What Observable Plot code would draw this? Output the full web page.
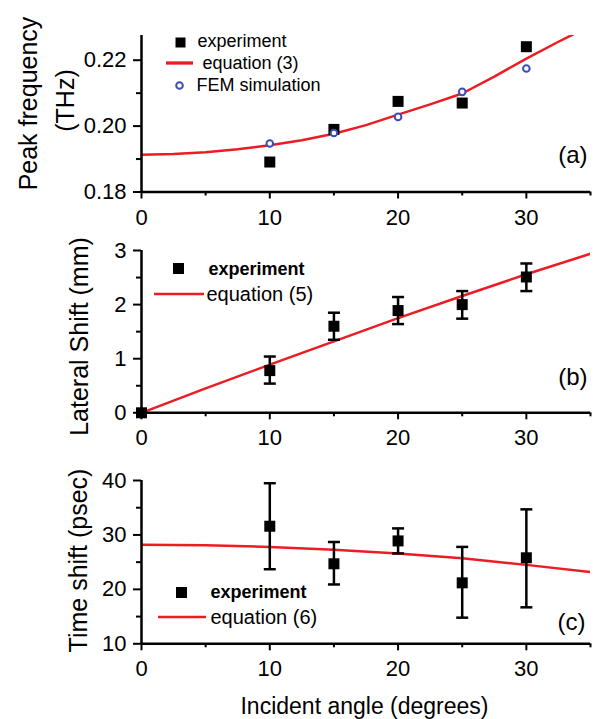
<!DOCTYPE html>
<html>
<head>
<meta charset="utf-8">
<script src="https://cdn.jsdelivr.net/npm/d3@7"></script>
<script src="https://cdn.jsdelivr.net/npm/@observablehq/plot@0.6"></script>
<style>
  html, body { margin: 0; padding: 0; background: #fff; }
  #chart { width: 604px; }
  #chart svg { display: block; }
</style>
</head>
<body>
<div id="chart"></div>
<script>
// ---------- data ----------
const angleDomain = [0, 35];
const majorAngleTicks = [0, 10, 20, 30];
const minorAngleTicks = [5, 15, 25, 35];

// (a) peak frequency
const freqAngles = [10, 15, 20, 25, 30];
const freqExperiment = [0.1891, 0.1990, 0.2075, 0.2070, 0.2241];
const freqFEM = [0.1947, 0.1979, 0.2028, 0.2104, 0.2175];
const eq3Angles = [0, 2.5, 5, 7.5, 10, 12.5, 15, 17.5, 20, 22.5, 25, 27.5, 30, 32.5, 34, 35];
const eq3Freq = [0.1913, 0.1915, 0.1921, 0.1930, 0.1942, 0.1957, 0.1977, 0.2003, 0.2035, 0.2066, 0.2099, 0.2150, 0.2205, 0.2256, 0.2285, 0.2305];
const freqDomain = [0.18, 0.2275];
const freqMajorTicks = [0.18, 0.20, 0.22];
const freqMinorTicks = [0.19, 0.21];

// (b) lateral shift
const shiftAngles = [0, 10, 15, 20, 25, 30];
const shiftExperiment = [0, 0.78, 1.60, 1.89, 2.00, 2.51];
const shiftLow = [0, 0.54, 1.35, 1.64, 1.74, 2.25];
const shiftHigh = [0, 1.04, 1.85, 2.14, 2.25, 2.76];
const eq5Angles = [0, 5, 10, 15, 20, 25, 30, 35];
const eq5Shift = [0, 0.45, 0.89, 1.32, 1.75, 2.16, 2.56, 2.94];
const shiftDomain = [0, 3];
const shiftMajorTicks = [0, 1, 2, 3];
const shiftMinorTicks = [0.5, 1.5, 2.5];

// (c) time shift
const timeAngles = [10, 15, 20, 25, 30];
const timeExperiment = [31.6, 24.7, 28.9, 21.2, 25.8];
const timeLow = [23.7, 20.9, 26.6, 14.8, 16.7];
const timeHigh = [39.5, 28.7, 31.2, 27.8, 34.7];
const eq6Angles = [0, 5, 10, 15, 20, 25, 30, 35];
const eq6Time = [28.2, 28.1, 27.8, 27.3, 26.6, 25.7, 24.5, 23.2];
const timeDomain = [10, 40];
const timeMajorTicks = [10, 20, 30, 40];
const timeMinorTicks = [15, 25, 35];

// ---------- styling ----------
const FONT = "'Liberation Sans', Arial, Helvetica, sans-serif";
const RED = "#ec1c24";
const BLUE = "#3a4fb6";
const ML = 141, MR = 14, W = 604;
const SQ_R = 11 / Math.sqrt(Math.PI);

const hline = {
  draw(context, size) {
    const r = Math.sqrt(size / Math.PI);
    context.moveTo(-r, 0);
    context.lineTo(r, 0);
  }
};

function zip(xs, ys) { return xs.map((x, i) => ({x, y: ys[i]})); }
function zipErr(xs, ys, lo, hi) { return xs.map((x, i) => ({x, y: ys[i], lo: lo[i], hi: hi[i]})); }

function at(x, y, mt) { return {frameAnchor: "top-left", dx: x - ML, dy: y - mt}; }

function legendLine(x1, x2, y, width) {
  return () => {
    const l = document.createElementNS("http://www.w3.org/2000/svg", "line");
    l.setAttribute("x1", x1); l.setAttribute("x2", x2);
    l.setAttribute("y1", y); l.setAttribute("y2", y);
    l.setAttribute("stroke", RED);
    l.setAttribute("stroke-width", width);
    return l;
  };
}

function axes(yDomain, yMajor, yMinor, yFormat) {
  return [
    Plot.axisX(majorAngleTicks, {tickSize: 7, tickPadding: 10, fontSize: 22, strokeWidth: 2, fill: "black", label: null}),
    Plot.axisX(minorAngleTicks, {tickSize: 4, tickFormat: () => "", strokeWidth: 2, label: null}),
    Plot.axisY(yMajor, {tickSize: 8, tickPadding: 7, fontSize: 22, strokeWidth: 2, tickFormat: yFormat, fill: "black", label: null}),
    Plot.axisY(yMinor, {tickSize: 5, tickFormat: () => "", strokeWidth: 2, label: null}),
    Plot.ruleY([yDomain[0]], {strokeWidth: 2.5}),
    Plot.ruleX([angleDomain[0]], {strokeWidth: 2.5})
  ];
}

const base = (h, mt, mb) => ({
  width: W, height: h,
  marginLeft: ML, marginRight: MR, marginTop: mt, marginBottom: mb,
  style: {fontFamily: FONT, color: "black", background: "white", overflow: "visible"},
  x: {domain: angleDomain, label: null}
});

// ---------- panel (a) ----------
const MTa = 35;
const panelA = Plot.plot({
  ...base(230, MTa, 38.5),
  y: {domain: freqDomain, label: null},
  marks: [
    Plot.line(zip(eq3Angles, eq3Freq), {x: "x", y: "y", stroke: RED, strokeWidth: 2.5, clip: true}),
    Plot.dot(zip(freqAngles, freqExperiment), {x: "x", y: "y", symbol: "square", r: SQ_R, fill: "black"}),
    Plot.dot(zip(freqAngles, freqFEM), {x: "x", y: "y", r: 3.3, stroke: BLUE, strokeWidth: 2, fill: "white"}),
    ...axes(freqDomain, freqMajorTicks, freqMinorTicks, d3.format(".2f")),
    // legend
    Plot.dot([0], {...at(180, 42, MTa), symbol: "square", r: 10 / Math.sqrt(Math.PI), fill: "black"}),
    Plot.text(["experiment"], {...at(197, 41, MTa), text: d => d, textAnchor: "start", lineAnchor: "middle", fontSize: 18}),
    legendLine(166, 193, 63, 3.3),
    Plot.text(["equation (3)"], {...at(202, 63, MTa), text: d => d, textAnchor: "start", lineAnchor: "middle", fontSize: 18}),
    Plot.dot([0], {...at(179, 85, MTa), r: 3.3, stroke: BLUE, strokeWidth: 2, fill: "white"}),
    Plot.text(["FEM simulation"], {...at(196, 85, MTa), text: d => d, textAnchor: "start", lineAnchor: "middle", fontSize: 18}),
    Plot.text(["(a)"], {...at(587, 155, MTa), text: d => d, textAnchor: "end", lineAnchor: "middle", fontSize: 24}),
    // y label
    Plot.text(["Peak frequency"], {...at(28.5, 103, MTa), text: d => d, rotate: -90, textAnchor: "middle", lineAnchor: "middle", fontSize: 25}),
    Plot.text(["(THz)"], {...at(65.5, 100, MTa), text: d => d, rotate: -90, textAnchor: "middle", lineAnchor: "middle", fontSize: 25})
  ]
});

// ---------- panel (b) ----------
const MTb = 20;
const shiftData = zipErr(shiftAngles, shiftExperiment, shiftLow, shiftHigh);
const shiftBars = shiftData.filter(d => d.hi > d.lo);
const panelB = Plot.plot({
  ...base(230, MTb, 47.7),
  y: {domain: shiftDomain, label: null},
  marks: [
    Plot.line(zip(eq5Angles, eq5Shift), {x: "x", y: "y", stroke: RED, strokeWidth: 2.5, clip: true}),
    Plot.ruleX(shiftBars, {x: "x", y1: "lo", y2: "hi", strokeWidth: 2.5}),
    Plot.dot(shiftBars, {x: "x", y: "lo", symbol: hline, r: 6, stroke: "black", strokeWidth: 2.5}),
    Plot.dot(shiftBars, {x: "x", y: "hi", symbol: hline, r: 6, stroke: "black", strokeWidth: 2.5}),
    ...axes(shiftDomain, shiftMajorTicks, shiftMinorTicks, d => String(d)),
    Plot.dot(shiftData, {x: "x", y: "y", symbol: "square", r: SQ_R, fill: "black"}),
    // legend
    Plot.dot([0], {...at(178, 38, MTb), symbol: "square", r: 11 / Math.sqrt(Math.PI), fill: "black"}),
    Plot.text(["experiment"], {...at(208, 39, MTb), text: d => d, textAnchor: "start", lineAnchor: "middle", fontSize: 18, fontWeight: "bold"}),
    legendLine(154, 204, 64, 2.5),
    Plot.text(["equation (5)"], {...at(206, 64, MTb), text: d => d, textAnchor: "start", lineAnchor: "middle", fontSize: 20}),
    Plot.text(["(b)"], {...at(587, 147, MTb), text: d => d, textAnchor: "end", lineAnchor: "middle", fontSize: 24}),
    Plot.text(["Lateral Shift (mm)"], {...at(79, 106, MTb), text: d => d, rotate: -90, textAnchor: "middle", lineAnchor: "middle", fontSize: 25})
  ]
});

// ---------- panel (c) ----------
const MTc = 20;
const timeData = zipErr(timeAngles, timeExperiment, timeLow, timeHigh);
const panelC = Plot.plot({
  ...base(259, MTc, 75.7),
  y: {domain: timeDomain, label: null},
  marks: [
    Plot.line(zip(eq6Angles, eq6Time), {x: "x", y: "y", stroke: RED, strokeWidth: 2.5, clip: true}),
    Plot.ruleX(timeData, {x: "x", y1: "lo", y2: "hi", strokeWidth: 2.5}),
    Plot.dot(timeData, {x: "x", y: "lo", symbol: hline, r: 6, stroke: "black", strokeWidth: 2.5}),
    Plot.dot(timeData, {x: "x", y: "hi", symbol: hline, r: 6, stroke: "black", strokeWidth: 2.5}),
    Plot.dot(timeData, {x: "x", y: "y", symbol: "square", r: SQ_R, fill: "black"}),
    ...axes(timeDomain, timeMajorTicks, timeMinorTicks, d => String(d)),
    // legend
    Plot.dot([0], {...at(181, 132, MTc), symbol: "square", r: 11 / Math.sqrt(Math.PI), fill: "black"}),
    Plot.text(["experiment"], {...at(210, 132, MTc), text: d => d, textAnchor: "start", lineAnchor: "middle", fontSize: 18, fontWeight: "bold"}),
    legendLine(158, 206, 157, 2.5),
    Plot.text(["equation (6)"], {...at(210, 157, MTc), text: d => d, textAnchor: "start", lineAnchor: "middle", fontSize: 20}),
    Plot.text(["(c)"], {...at(585, 162, MTc), text: d => d, textAnchor: "end", lineAnchor: "middle", fontSize: 24}),
    Plot.text(["Time shift (psec)"], {...at(78, 100, MTc), text: d => d, rotate: -90, textAnchor: "middle", lineAnchor: "middle", fontSize: 25}),
    Plot.text(["Incident angle (degrees)"], {...at(364, 246, MTc), text: d => d, textAnchor: "middle", lineAnchor: "middle", fontSize: 23})
  ]
});

const chart = document.getElementById("chart");
chart.append(panelA, panelB, panelC);
</script>
</body>
</html>
